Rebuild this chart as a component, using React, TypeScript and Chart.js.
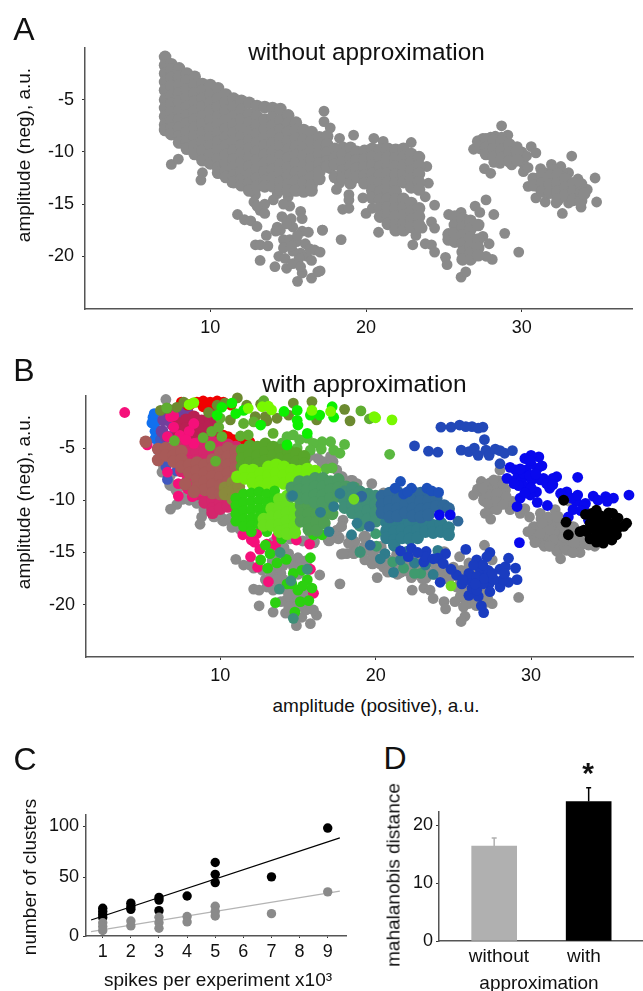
import React, { useEffect, useRef } from "react";
import { Chart, registerables } from "chart.js";
Chart.register(...registerables);

const FONT = '"Liberation Sans", Arial, sans-serif';
Chart.defaults.font.family = FONT;

type Rows = number[][];
// every row: x value followed by the y values read at that x
const aMain: Rows = [
[7.1,-0.9,-1.7,-2.5,-3.3,-4.1,-5,-5.8,-6.6,-7.4,-7.9],
[7.5,-1.6,-2.1,-2.9,-3.7,-4.6,-5.4,-6.2,-7,-7.8,-8.3],
[8,-2,-2.8,-3.6,-4.4,-5.2,-6.1,-6.9,-7.7,-8.5,-9.1],
[8.5,-2.5,-3.2,-4,-4.8,-5.7,-6.5,-7.3,-8.1,-9,-9.7],
[9,-2.8,-3.6,-4.4,-5.2,-6.1,-6.9,-7.7,-8.5,-9.4,-10.2],
[9.5,-3.5,-4.1,-4.9,-5.7,-6.6,-7.4,-8.2,-9,-9.9,-10.8],
[10,-3.6,-4.5,-5.3,-6.1,-7,-7.8,-8.6,-9.4,-10.3,-11.1],
[10.5,-3.9,-4.9,-5.7,-6.6,-7.4,-8.2,-9,-9.9,-10.7,-11.5,-12],
[11,-4.5,-5.3,-6.1,-7,-7.8,-8.6,-9.4,-10.3,-11.1,-11.9,-12.4],
[11.5,-4.9,-5.7,-6.6,-7.4,-8.2,-9,-9.9,-10.7,-11.5,-12.3,-12.9],
[12,-5.1,-6,-6.9,-7.7,-8.5,-9.4,-10.2,-11,-11.9,-12.7,-13.2],
[12.5,-5.3,-6.4,-7.2,-8.1,-8.9,-9.7,-10.6,-11.4,-12.2,-13,-13.7],
[13,-5.6,-6.6,-7.5,-8.3,-9.1,-10,-10.8,-11.6,-12.5,-13.3],
[13.5,-5.7,-6.9,-7.8,-8.6,-9.4,-10.3,-11.1,-11.9,-12.8,-13.3],
[14,-5.8,-6.7,-7.5,-8.3,-9.2,-10,-10.8,-11.7,-12.5,-13.3],
[14.5,-5.9,-7,-7.9,-8.7,-9.5,-10.4,-11.2,-12,-12.9,-13.6],
[15,-6.5,-7.3,-8.1,-9,-9.8,-10.6,-11.5,-12.3,-13.1,-13.7],
[15.5,-7.2,-7.9,-8.7,-9.5,-10.3,-11.1,-12,-12.8,-13.7],
[16,-7.9,-8.8,-9.6,-10.4,-11.3,-12.1,-12.9,-13.8],
[16.5,-8.1,-9,-9.9,-10.7,-11.5,-12.4,-13.2,-13.7],
[17,-8.6,-9.4,-10.3,-11.1,-11.9,-12.6],
[17.5,-8.5,-9.3,-10.1,-10.9,-11.4],
[18,-9.7,-10.6,-11.2,-12.4],[18.5,-10.2,-11,-11.8,-12.5],[19,-9.6,-10.6,-11.4,-12.2,-13],
[19.4,-10,-10.8,-11.6,-12.4],[19.9,-9.9,-10.7,-11.5,-12.3,-13],[20.4,-9.7,-10.5,-11.3,-12.1,-12.9,-13.7,-14.4],
[20.9,-9.8,-10.6,-11.4,-12.2,-13,-13.8,-14.6,-15.4,-16.2],[21.4,-9.7,-10.5,-11.3,-12.1,-12.9,-13.7,-14.5,-15.3,-16.1,-16.9],
[21.9,-9.8,-10.6,-11.4,-12.2,-13,-13.8,-14.6,-15.4,-16.2,-17,-17.5],[22.4,-9.7,-10.5,-11.3,-12.1,-12.9,-14.5,-15.3,-16.1,-16.9,-17.5],
[22.9,-10.2,-11,-11.8,-12.6,-13.4,-14.9,-15.7,-16.5,-17.2],[23.4,-10.5,-11.3,-12.1,-12.9,-13.6,-15.4,-16.2,-17],
[25.3,-17.9,-18.4],[25.7,-16.2,-17,-17.8,-18.6],[26.2,-16.4,-17.2,-18,-18.8,-19.6,-20.3],[26.7,-16.6,-17.4,-18.2,-19,-19.7,-20.3],[27.2,-17,-18.4,-19.2,-19.9],
[27.2,-9],[27.7,-8.8,-9.6,-10.2],[28.2,-8.9,-9.7,-10.5],[28.7,-9,-9.8,-10.6],[29.2,-9.3,-10.1,-10.9],[29.7,-10,-10.8],
[30.8,-12.6,-13.2],[31.3,-12.2,-13,-13.8],[31.8,-12.3,-13.1,-13.9],[32.3,-12.2,-13,-13.8,-14.6],[32.8,-12.6,-13.4,-14.2],[33.3,-13,-13.8,-14.6],[33.8,-13.1,-13.9,-14.7],[34,-14],
];
const aTail: Rows = [
[7.5,-11.2],[7.95,-10.7],[9.5,-12],[9.4,-12.7],[11.4,-12.95],[11.75,-16],[12.2,-16.5],[12.6,-16.6],[13,-17.15],[12.9,-18.9],[13.2,-18.9],[13.7,-19],[13.2,-20.4],[14.15,-21],[14.9,-21.15],[15.6,-22.4],[16.5,-22.1],[15.9,-21.6],[16.9,-21.5],[17.2,-17.5],[15.8,-15.7],[15.9,-16.4],[16.7,-19.4],[14.4,-20],[14.8,-20.2],
[12.9,-14.1],[12.8,-14.8],[13.2,-15.6],[13.5,-15.9],[14.05,-14.6],[14.3,-14],[15,-14.3],[15.1,-15.2],[14.6,-16.2],[14.3,-17.2],[14.5,-17.5],[15.2,-16.4],[15.3,-17.2],[15.9,-17.6],[16.3,-17.7],[13.6,-18],[14.2,-17.6],[14.7,-18.4],[15.1,-18.4],[15.55,-18.6],[16.1,-18.8],[14.7,-19.2],[15.8,-19.7],[16.2,-20],[15.3,-20.7],[15.7,-20.2],[16.5,-20.4],[15.8,-21],[15.3,-19.5],[16.4,-19.3],[14.9,-16.9],[15.6,-18],[13.5,-15],[14.7,-15],[13,-15.2],[15.2,-19],
];
const aMiddle: Rows = [
[17.3,-6.1],[17.3,-7.1],[17.7,-7.7],[18.3,-8.7],[19.2,-8.4],[20.5,-8.7],[21.1,-9],[22.9,-9.1],[18.5,-9.5],[17.7,-11.6],[18.1,-13.6],[18.3,-13],[18.9,-14.1],[18.9,-14.6],[18.5,-15.5],[18.9,-15.4],[17.2,-17.5],[18.4,-18.4],[17.05,-19.6],[17.05,-21.4],[19.8,-14.4],[20,-15.9],[20.4,-15.4],[20.8,-17.7],[23,-18.9],[24.4,-15.1],[24.2,-16.7],[24.4,-17.3],[23.8,-18.8],[24.2,-18.9],[24.4,-19.6],[25.1,-20.1],[25.2,-20.8],[26.1,-22],[26.4,-21.5],[27,-15.2],[27.7,-14.6],[27.3,-15.8],[28.2,-16],[28.9,-17.8],[29.8,-19.6],[28.1,-20.3],[27.7,-20],[27.9,-18.8],[27.5,-18.1],[26.1,-15.8],[25.3,-16],[24,-13],[23.9,-11.4],[23.8,-14.3],[23.6,-17.3],[23.2,-18],
];
const aRight: Rows = [
[26.9,-9.75],[27.5,-8.7],[28.3,-8.5],[28.7,-7.5],[29.1,-8.4],[27.6,-11.6],[28,-12.05],[28.6,-11.1],[29.35,-11.25],[30.6,-9.5],[30.9,-10.1],[30,-10],[30.1,-11.1],[30.1,-11.9],[30.4,-13.3],[30.9,-14.4],[31.2,-11.6],[31.9,-11.2],[32.5,-11.4],[33,-12],[33.2,-10.4],[34.7,-12.5],[34.2,-13.6],[34.8,-14.8],[33.8,-15.3],[32.6,-15.9],[31.5,-14.8],[32.2,-14.9],[29.6,-10.6],[30.4,-11.5],[28.2,-11],[30.7,-12.5],
[31.5,-12],[32,-11.7],[32.6,-12],[33.6,-12.6],[31,-13.3],[33,-14.9],[28,-8.6],[28.7,-8.6],[27.3,-9.7],[29.7,-9.5],[30.3,-10.4],
];

const bGrey: Rows = [
[6.5,-0.35],[6.25,-7.3],[6.8,-7.6],[7.2,-10.4],[6.8,-10.85],[8.8,-11.6],[8.7,-12.3],[8.5,-10.3],[9.1,-10.6],[10,-11.5],[10.65,-11.7],[10.75,-12.6],[7.6,-9.9],[8,-10],
[11,-15.65],[11.5,-16.2],[11.9,-16.2],[12.15,-16.5],[12.7,-16.7],[12.9,-17.6],[12.15,-18.5],[12.5,-18.6],[12.5,-20.1],[13.4,-20.7],[14.2,-20.8],[14.9,-22],[15.8,-21.8],[16.2,-21],[16,-20.5],[15.25,-21.2],[14.9,-20.2],[14.4,-20.2],[13.9,-19.7],[13.4,-18.6],[13,-18.3],[13.9,-17],[13.65,-16.4],[14.4,-15.1],[15,-15.5],[15.15,-16],[16.4,-17.15],[17.7,-18],[15.7,-16.6],[14.7,-16.35],[13.5,-14.8],[14.1,-14.5],[13.4,-14],[13.2,-16.8],[13.6,-17.6],[14.4,-19],[15.2,-20],[15.6,-19.4],[14.9,-19],
[16.3,-6],[17.1,-5.8],[15.8,-5.7],[17.5,-7.1],[18.4,-8.1],[18.8,-8.4],[17.9,-11.9],[17.5,-12.85],[18.4,-13.5],[18.3,-14.1],[18.15,-15.1],[17.8,-15.15],[14.5,-13.7],[15.3,-13.9],[15.8,-13.3],[16.8,-13.4],[17.8,-12.5],[18.8,-11.4],
[17.8,-12.5],[18.25,-14.1],[17.9,-15.1],[18.6,-15.1],[19.3,-15.7],[20.1,-17.4],[20.5,-16.4],[20.4,-15.9],[21.6,-16.9],[22.3,-17.4],[22.35,-18.6],[23.1,-18.4],[23.5,-18.6],[23.7,-19.4],[24.4,-19.7],[24.5,-20.4],[25.75,-21.1],[25.5,-21.6],[25.1,-19.7],[25.65,-20.2],[27.5,-19.9],[29.2,-19.3],[27,-14.3],[27.5,-15.7],[25.4,-15.4],[25.1,-17.2],[24.7,-17.6],[25.2,-18.3],[25.65,-18.9],[25,-16.4],[19.75,-8.4],[18.5,-8.1],[20.5,-9.3],[26,-16],[26.4,-19.5],[26.9,-20],[27.2,-19.3],[26.2,-17],[23,-17.5],[24,-16.7],
[26.3,-9.5],[26.8,-8.2],[27.6,-8.06],[28,-7.1],[27.05,-11.25],[27.4,-11.8],[27.8,-10.9],[28.65,-10.9],[27.15,-9.35],[27.8,-9.35],[28.4,-9.65],[26.9,-8.85],[28.2,-8.4],[27.7,-10.1],[27.2,-10.3],[28.2,-10.4],[29.3,-11.25],[29.6,-10.8],[29.9,-11.6],[30.6,-11.25],[31.55,-10.9],[31.1,-11.6],[32.5,-10.1],
[29.8,-13],[30.25,-14.05],[30.85,-14.4],[31.9,-15.6],[30.7,-12.2],[31.2,-12.85],[30.6,-13.2],[31.4,-13.8],[31.9,-12.2],[32.1,-13.5],[32.3,-14.8],[33.15,-15],[32.8,-14.1],[32.5,-12.85],[31.65,-11.6],[34.1,-14.4],[31.2,-14.4],[32.7,-15],
];
const bGreyBody: Rows = [
[26.6,-9],[27,-8.6,-9.4,-10],[27.4,-8.4,-9.2,-10,-10.8],[27.9,-8.2,-8.9,-9.7,-10.4],[28.3,-9,-10],[28.8,-10.2],
[30.2,-12.6,-13.4],[30.7,-11.8,-12.6,-13.4,-14],[31.2,-12,-12.8,-13.6,-14.3],[31.7,-11.6,-12.4,-13.2,-14,-14.8],[32.2,-12,-12.8,-13.6,-14.4],[32.7,-12.6,-13.4,-14.2,-14.9],[33.2,-13.4,-14.2],[33.7,-14.2],
[19.3,-13.5,-14.5],[19.8,-15,-16],[20.3,-14.5,-16],[20.8,-15.8,-16.8],[21.4,-15.2,-16.2,-17],[22,-15.8,-16.7],[22.6,-15.3,-16.3,-17],[23.2,-16.8,-17.4],[23.8,-16,-17],[24.4,-15,-16.5,-17],
[25.5,-16.8,-17.6,-18.4,-19.2],[26,-16.6,-17.4,-18.2,-19,-19.8],[26.5,-16.8,-17.6,-18.4,-19.4,-20],[27,-17.5,-18.5,-19.3],
[13.4,-15,-15.8,-17],[14,-15.4,-16.2,-17.6,-18.4],[14.5,-15.8,-18.8,-19.6],[15,-17,-19],[15.5,-15.9,-18.9,-20.4],[13.8,-18],[14.3,-19.6],
[7.8,-9.7],[8.4,-9.9],[9,-10.9],[9.6,-11.5],[10.2,-11.9],[10.8,-12.2],[11.3,-12.7],[6.4,-6.7],[6.8,-8.5],[7.2,-9],
[15.5,-6],[16.6,-6.4],[17.2,-6.3],[17.8,-7.8],[18.6,-14,-15],[19.3,-14.7],[17.6,-13.6],[17,-13.8],[16,-14],
];
const bBrightBlue: Rows = [[5.67,-2.07],[5.6,-2.6],[5.8,-3.4],[5.8,-4.1],[6,-5.2],[5.75,-1.7],[5.8,-2.64],[6,-4.9]];
const bSlateBlue: Rows = [[6.6,-8],[6.5,-6.8],[6.25,-6.15],[6.35,-4.55],[6.15,-4.2],[7.2,-7.2]];
const bPurple: Rows = [[6.35,-2.3],[7,-1.7],[7.65,-2],[7.85,-1.4],[6.25,-3.4],[7.45,-1.05],[8.1,-2.3],[6.6,-1.3],[6.9,-2.7],[6.5,-3.9],[7.1,-3.6],[7.3,-2.5]];
const bRed: Rows = [[8.5,-0.6],[8.9,-0.5],[9.35,-0.6],[9.8,-0.5],[10.2,-0.6],[8.9,-1.05],[9.4,-1.2],[10.7,-0.9],[8.1,-0.8],[7.5,-0.6],[10.2,-3.76],[10.85,-4.2],[11.4,-4.3],[11.9,-4.4],[9.6,-4.2],[9.1,-3.9],[10.5,-3.9],[10,-4.4],[7.9,-0.9]];
const bCrimson: Rows = [[7.3,-2.6,-3.4],[7.8,-2.3,-3.1,-3.9],[8.3,-2,-2.8,-3.6,-4.4],[8.8,-2.4,-3.2,-4],[9.3,-2.1,-2.9,-3.7],[9.7,-2.4,-3.2],[9.6,-1.9]];
const bHotPink: Rows = [
[3.85,-1.6],[6.8,-2],[7,-1.9],[6.6,-3.9],[6.6,-7.3],[7.3,-8.4],[7.3,-9.6],[7.85,-8.05],[8.3,-8.7],[8.2,-9.65],[8,-3.4],[8.3,-2.65],[8.3,-4.55],[7.4,-3.8],[7.8,-4.2],[5.3,-4.7],[7,-3],[7.9,-8.9],[8.7,-9.1],
[11.45,-13.3],[12,-13.8],[12.35,-13.2],[12.55,-14.7],[11.95,-15.4],[12.4,-16.4],[13.1,-17.8],[13.65,-13.5],[13.55,-14.3],[14.9,-13.8],[15.75,-14.2],[16,-18.9],[15.8,-16.6],[13,-14.2],[12.2,-14],
];
const bRose: Rows = [
[7.5,-4.8,-5.6,-6.4,-7.2],[8,-4.7,-5.5,-6.3,-7.1,-7.9,-8.7],[8.5,-4.6,-5.4,-6.2,-7,-7.8,-8.6,-9.4],[9,-4.6,-5.4,-6.2,-7,-7.8,-8.6,-9.4,-10.2],[9.5,-4.4,-5.2,-6,-6.8,-7.6,-8.4,-9.2,-10,-10.8,-11.2],[10,-4.6,-5.4,-6.2,-7,-7.8,-8.6,-9.4,-10.2,-10.8],[10.5,-4.7,-5.5,-6.3,-7.1,-7.9,-8.7,-9.5,-10.3,-10.6],[11,-9.6,-10.3,-4.9],
];
const bBrown: Rows = [
[5.2,-4.4],[6,-5.1,-6.15],[6.5,-5,-5.7],[7,-4.9,-5.7,-6.3],[7.5,-5.3,-6.1,-6.8],[8,-6.6,-7.4],[8.5,-6.4,-7.2,-8,-8.8],[9,-6.6,-7.4,-8.2,-9],[9.5,-6.1,-6.9,-7.7,-8.5,-9.3],[10,-5.4,-6.2,-7,-7.8,-8.6,-9.4],[10.5,-5,-5.8,-6.6,-7.4,-8.2,-9],[11,-5.3,-6.1,-6.9,-7.7],[7.75,-8.45],[8.3,-9.2],
];
const bOliveDark: Rows = [[6.15,-1.4],[6.6,-1.2],[7.2,-1.1],[7.65,-0.6],[9.25,-1.6],[9.8,-0.9],[10.3,-0.7],[11.1,-0.2],[10.65,-2.3],[12.25,-2],[12.9,-2],[13.65,-2.15],[14.4,-1.85],[14.7,-0.7],[15.9,-0.55],[16.2,-2.3],[18,-1.3],[18.35,-2.4],[11.7,-0.9],[12.6,-0.8],[13,-2.4]];
const bOliveMid: Rows = [[10.3,-8.8,-9.4],[10.8,-8.3,-9.1,-9.9],[11.2,-8.7,-9.5]];
const bGreenMid: Rows = [[7.05,-4.3],[6.55,-1.15],[9.7,-6.25],[9.35,-4.8],[8.9,-4],[9.45,-3.4],[10.1,-3.9],[9.9,-3],[10,-2.15],[11.5,-2.65],[11.3,-3.85],[11.8,-3.75],[12.15,-2.5],[12.8,-0.47],[13.4,-3.6],[19.05,-1.45],[19.6,-2.2]];
const bGreenDark: Rows = [[11.4,-5.2,-6,-6.8],[11.9,-4.8,-5.6,-6.4,-7.2],[12.4,-4.9,-5.7,-6.5],[12.9,-4.6,-5.4,-6.2],[13.4,-4.9,-5.7,-6.5],[13.9,-5.2,-6],[14.4,-5.3,-6.1],[14.9,-5.5,-6.3],[15.4,-5.8,-6.5]];
const bGreenLight: Rows = [[14.3,-3.9],[14.7,-3.75],[15.6,-4.05],[16.55,-4.4],[17.3,-5.2],[17.7,-5.5],[18,-4.65],[17.1,-4.4],[16,-4.55],[14.95,-5],[14.5,-5.85],[15.8,-5.2],[14,-4.5],[13.65,-4.9],[15.1,-4.2],[16.5,-5.1],[17.2,-6.9],[16.8,-7],[20.9,-5.6]];
const bPureGreen: Rows = [[10.75,-0.7],[9.8,-1.85],[11,-1.7],[11.5,-1.4],[12.6,-2.8],[14.1,-1.5],[14.95,-1.4],[15.8,-1.85],[16.4,-1.85],[17.3,-2.05],[17.2,-1.05],[15,-2.8],[14.95,-2.35],[15.6,-3.6],[14.3,-4.7],[10.1,-1.1]];
const bLimeBright: Rows = [[8.3,-0.65],[8,-0.85],[11.8,-1.2],[13.3,-1.35],[17.1,-1.5],[12.7,-1.05],[15.9,-1.4],[13.1,-1],[19.9,-2],[20,-2.1],[21.05,-2.3]];
const bLime: Rows = [[11.1,-7.75],[11.6,-7.1,-7.9],[12.1,-7.1,-7.9,-8.4],[12.6,-7.4,-8.2,-8.7],[13.1,-6.8,-7.6,-8.4],[13.6,-6.6,-7.4,-8.2],[14.1,-6.8,-7.6,-8.4],[14.6,-7.1,-7.9],[15.1,-7.2,-7.9],[15.6,-7,-7.6],[16.1,-7.2]];
const bGreenBright: Rows = [
[11,-9.8,-10.5,-11.3,-12],[11.5,-9.4,-10.2,-11,-11.8,-12.5],[12,-9.3,-10.1,-10.9,-11.7,-12.4,-13],[12.5,-9.2,-10,-10.8,-11.6,-12.3],[13,-9.4,-10.2,-11,-11.8,-13],[13.5,-9.1,-9.9],
[12.9,-14.3],[13.2,-15.1],[12.6,-15.7],[13.05,-16.5],[13.65,-16],[14.25,-15.65],[15.8,-15.5],[13.95,-13.7],[14.7,-17],[15.25,-16.7],[14.3,-18],[15,-18.6],[15.6,-17.6],[15.9,-18.4],[13.55,-19.8],[15.15,-19.7],[15.7,-19.6],[14.8,-20.7],[16,-13.3],[16.55,-13.3],[14.6,-18],[15.3,-18.2],
];
const bLimeSoft: Rows = [[12.8,-11.8,-12.4],[13.3,-10.8,-11.6,-12.4],[13.8,-9.9,-10.7,-11.5,-12.3,-13],[14.3,-9.6,-10.4,-11.2,-12,-12.8,-13.2],[14.8,-10.8,-11.6,-12.4,-13.1]];
const bSeaGreen: Rows = [[14.6,-8.8,-9.6],[15.1,-8.2,-9,-9.8],[15.6,-8.2,-9,-9.8],[16.1,-7.9,-8.7,-9.5,-10.2],[16.6,-7.9,-8.7,-9.5,-10.2],[17.1,-8.2,-9,-9.8],[17.6,-8,-8.8,-9.6],[18.1,-8.7,-9.5],[18.6,-8.8,-9.5]];
const bLeaf: Rows = [[15.2,-10.5,-11.3,-12],[15.7,-10.5,-11.3,-12.1,-12.8],[16.2,-10.5,-11.3,-12.1,-12.9],[16.7,-10.7,-11.5,-12.2],[17.2,-10.5,-11.3]];
const bLeafDots: Rows = [[19,-15],[20,-13.2],[20.6,-13.2],[20.05,-14.4],[21.1,-15.9],[21.8,-16.5],[22.9,-17],[22.5,-17]];
const bTealMid: Rows = [[18,-9.2,-10,-10.7],[18.5,-8.8,-9.6,-10.4,-11.2],[19,-9.2,-10,-10.8,-11.6,-12.4],[19.5,-9.4,-10.2,-11,-11.8],[20,-9.6,-10.4,-11.2,-12]];
const bTealDots: Rows = [[13.85,-15],[15.6,-16.6],[14.55,-17.7],[13.8,-18.5],[14.7,-21.3],[19,-14.9]];
const bTeal: Rows = [[20.7,-12.1,-12.9,-13.6],[21.2,-12.2,-13,-13.8,-14.3],[21.7,-12,-12.8,-13.6],[22.2,-12.2,-13,-13.7],[22.7,-12,-12.8,-13.6],[23.2,-12.2,-13],[23.7,-12.4,-13.1],[24.2,-12.2,-13],[24.7,-12.6,-13.3]];
const bTealSpots: Rows = [[14.65,-9.55],[16.45,-11.15],[17,-13],[18.45,-13.3],[17.7,-9.35],[17.3,-10.6],[19,-9.7],[18.8,-12.2],[20.6,-15.1],[20.3,-15.6],[21.15,-16.9],[23.7,-17.1],[24,-14.8],[21.6,-15.7],[22.5,-16],[23.2,-16.2],[22,-14.9]];
const bSteel: Rows = [[20.4,-9.6,-10.4,-11.2],[20.9,-9.3,-10.1,-10.9,-11.6],[21.4,-9.2,-10,-10.8,-11.5],[21.9,-9.6,-10.4,-11.2],[22.4,-9.2,-10,-10.8,-11.5],[22.9,-9.3,-10.1,-10.9,-11.6],[23.4,-9.2,-10,-10.8,-11.4],[23.9,-9.8,-10.6],[24.4,-10.5],[24.7,-10.8]];
const bSteelDots: Rows = [[25.3,-12],[19.65,-14.3],[19.1,-9.6],[19.6,-12.5]];
const bCobalt: Rows = [[21.6,-8.2],[21.25,-8.85],[21.8,-9.4],[22.3,-8.85],[22.05,-9.2],[23.3,-8.85],[23.6,-9.1],[24.05,-9.25]];
const bRoyal: Rows = [[24.2,-3],[24.85,-3],[25.4,-2.8],[26.2,-2.95],[26.9,-3],[26.6,-3.1],[25.8,-2.95],[27,-4.2],[22.5,-4.8],[23.4,-5.3],[24,-5.4],[25.5,-5.2],[26,-5.35],[26.35,-5],[26.6,-5.7],[27.1,-5.2],[27.3,-5.7],[27.7,-5.1],[28,-5.25],[28.3,-5.5],[28.8,-5.25],[28,-6.5]];
const bNavy: Rows = [[26.95,-20.75],[26.8,-20.1],[26.6,-19.2],[26,-19.1],[24.15,-17.85],[25.55,-18],[26.2,-17.6],[26.7,-17.15],[27.3,-18],[27.35,-18.75],[26.9,-18],[28,-17.8],[28.55,-17.85],[29.1,-17.6],[29,-16.5],[28,-16.6],[28.35,-16.35],[28.55,-15.55],[27.35,-15],[27.15,-15.4],[26.5,-15.7],[26.7,-16.5],[27.25,-16.7],[25.8,-14.7],[25.2,-17.15],[24.85,-16.6],[24.5,-15.1],[24,-15.55],[24.35,-16.05],[23.1,-15.9],[23.25,-14.9],[22.1,-15.4],[22.3,-14.6],[21.6,-14.85],[25.9,-17.6],[26.2,-18.4],[28,-18.3],[28.2,-17.6],[26.5,-18.6],[23.2,-15.4],
[26,-17],[26.5,-17.3],[27,-17.5],[27.6,-17.6],[25.6,-17.6],[26.4,-18],[27.5,-17],[26.9,-16.2],[26.3,-16.2],[28.3,-17],[23.7,-15.6],[22.7,-15]];
const bBlue: Rows = [[36.3,-9.5],[33,-7.8],[35.3,-9.8],[34.8,-9.65],[34,-9.6],[33.5,-10.3],[32.9,-10.1],[32.3,-9.2],[31.9,-9.35],[31.65,-7.75],[31.4,-7.9],[30.8,-7.9],[30.5,-5.85],[30.7,-6.7],[30,-5.7],[29.6,-6],[28.65,-6.85],[29,-7.1],[28.45,-7.9],[29.1,-7.9],[29.7,-7.1],[30.4,-6.95],[29.4,-8.05],[30.05,-8.05],[29.6,-8.7],[30.35,-9.2],[29.95,-9.5],[29.3,-9.8],[29.1,-10.6],[30.4,-10.2],[31.05,-10.5],[31.2,-8.85],[32.05,-9.65],[32.4,-11.6],[32.7,-10.9],[33.4,-10.6],[33.7,-11.9],[34.9,-10.1],[29.25,-14.05],[30.6,-8.05],[31,-8.4],[24.1,-11.4],[24.8,-11.4],[30,-6.5],[29.5,-7.4],
[29.3,-7],[29.9,-7.6],[30.3,-7.5],[29.2,-8.6],[28.9,-8.4],[30,-8.8],[29.6,-9.3],[31.4,-8.5],[32.6,-9.8],[33,-9.5],[34.3,-10],[33.2,-11],[29.9,-6.2]];
const bBlack: Rows = [[32.1,-10],[32.25,-12.1],[32.4,-13.3],[33.5,-11.35],[34.2,-10.95],[33.9,-11.25],[35.25,-11.25],[35.6,-11.7],[36.15,-12.2],[36.95,-12.95],[35.95,-12.5],[33.15,-13],[33.8,-12.2],[34.45,-12.2],[34.85,-11.9],[35.1,-12.7],[34.2,-13],[34.85,-13.3],[35.5,-13.3],[33.8,-13.7],[34.2,-14],[34.65,-14.1],[35.2,-13.8],[33.4,-12.85],[34.65,-12.7],[35.3,-12.2],[34.1,-11.9],
[34.5,-11.5],[35,-11.2],[33.6,-13],[34.4,-13.5],[35.2,-13.2],[34,-12.6],[35.6,-12.6]];
const bLimeDot: Rows = [[24.85,-18.2],[18.6,-9.9]];

const DOT = 5.4;
const BODY = 6.3;
const layersB: [Rows, string, number][] = [
  [bGreyBody,"#8b8b8b",BODY],[bGrey,"#8b8b8b",DOT],[bBrightBlue,"#1170ee",DOT],[bSlateBlue,"#4058c0",DOT],[bPurple,"#70409c",BODY],[bRed,"#f00000",DOT],[bCrimson,"#b82052",BODY],[bRose,"#d4266c",BODY],[bHotPink,"#f5107a",DOT],[bBrown,"#a85a58",BODY],[bOliveMid,"#8a8a3c",BODY],[bOliveDark,"#6c8a30",DOT],[bGreenMid,"#5fae30",DOT],[bGreenLight,"#5ab840",DOT],[bGreenDark,"#58a62a",BODY],[bPureGreen,"#0cf000",DOT],[bLimeBright,"#78f800",DOT],[bLime,"#72ea0c",BODY],[bGreenBright,"#2cd010",DOT],[bLimeSoft,"#68df1c",BODY],[bLeaf,"#4f9f52",BODY],[bLeafDots,"#3f9a6e",DOT],[bSeaGreen,"#4a9a62",BODY],[bTealMid,"#3f8f78",BODY],[bTealDots,"#3f8f78",DOT],[bTeal,"#2f7c8c",BODY],[bTealSpots,"#2f7c8c",DOT],[bSteel,"#2f689a",BODY],[bSteelDots,"#2f689a",DOT],[bCobalt,"#1c50ba",DOT],[bRoyal,"#2248b8",DOT],[bNavy,"#1a3cc0",DOT],[bBlue,"#0808ee",DOT],[bBlack,"#000000",DOT],[bLimeDot,"#70d820",DOT],
];

const spikes1 = [1,1,1,1,2,2,2,3,3,3,4,5,5,5,7,9];
const clustersWith = [20,17,14,11,25,21.6,19,30.6,28,17.7,32,64.5,53,45,50.6,98];
const spikes2 = [1,1,1,2,2,3,3,3,4,4,5,5,5,7,9];
const clustersWithout = [6,2.3,-1.6,7.7,2.9,11.3,6,0.6,12,6.8,22,16.8,12.6,14.8,36];
const fitX = [0.585,9.43];
const fitWith = [8.7,88.4];
const fitWithout = [-2.6,36.8];
const spikeTicks = [1,2,3,4,5,6,7,8,9];

const distance = [16.4,24.1];
const distanceTop = [17.8,26.5];
const barColours = ["#b0b0b0","#000000"];
const barPositions = [1,2];
const barLabelPositions = [1.05,1.95];
const barLabels = ["without","with"];

const pts = (rows: Rows) => rows.flatMap(([x, ...ys]) => ys.map((y) => ({ x, y })));

const axisColour = "#555555";
function axis(min: number, max: number, ticks: number[], size: number, horizontal: boolean, label: (v: number) => string, fontSize: number, pad: number, tickLen = 3, drawTicks = true) {
  return {
    type: "linear", min, max, offset: false,
    border: { display: true, color: axisColour, width: 1.5 },
    grid: { display: true, offset: false, drawOnChartArea: false, drawTicks, tickLength: tickLen, tickColor: "#333333", tickWidth: 1 },
    afterBuildTicks: (s: any) => { s.ticks = ticks.map((value) => ({ value })); },
    afterFit: (s: any) => {
      if (horizontal) s.height = size; else s.width = size;
      s.paddingLeft = s.paddingRight = s.paddingTop = s.paddingBottom = 0;
    },
    ticks: { autoSkip: false, maxRotation: 0, padding: pad, color: "#111111", font: { size: fontSize }, callback: (v: number) => label(v) },
  };
}

const str = (v: number) => String(v);
const basePlugins = { legend: { display: false }, tooltip: { enabled: false }, title: { display: false } };
const dots = (rows: Rows, colour: string, radius: number) => ({ data: pts(rows), backgroundColor: colour, borderWidth: 0, pointRadius: radius, clip: false } as any);

function makeA(c: HTMLCanvasElement) {
  return new Chart(c, {
    type: "scatter",
    data: { datasets: [dots(aMain, "#8a8a8a", BODY), dots([...aTail, ...aMiddle, ...aRight], "#8a8a8a", DOT)] },
    options: {
      animation: false, responsive: false, plugins: basePlugins,
      layout: { padding: { top: 48, right: 11, left: 0, bottom: 0 } },
      scales: {
        x: axis(1.96, 37.07, [10,20,30], 31, true, str, 18, 5),
        y: axis(-25.05, -0.05, [-5,-10,-15,-20], 85, false, str, 18, 8),
      },
    } as any,
  });
}
function makeB(c: HTMLCanvasElement) {
  return new Chart(c, {
    type: "scatter",
    data: { datasets: layersB.slice().reverse().map(([rows, colour, radius]) => dots(rows, colour, radius)) },
    options: {
      animation: false, responsive: false, plugins: basePlugins,
      layout: { padding: { top: 51, right: 10, left: 0, bottom: 0 } },
      scales: {
        x: axis(1.36, 36.56, [10,20,30], 30, true, str, 18, 5),
        y: axis(-25, -0.02, [-5,-10,-15,-20], 86, false, str, 18, 8),
      },
    } as any,
  });
}
function makeC(c: HTMLCanvasElement) {
  const scatter = (xs: number[], ys: number[], colour: string) => ({ data: xs.map((x, i) => ({ x, y: ys[i] })), backgroundColor: colour, borderWidth: 0, pointRadius: 4.7, clip: false });
  const fit = (ys: number[], colour: string, w: number) => ({ type: "line", data: fitX.map((x, i) => ({ x, y: ys[i] })), borderColor: colour, borderWidth: w, pointRadius: 0, fill: false, clip: false });
  return new Chart(c, {
    type: "scatter",
    data: { datasets: [fit(fitWith,"#000000",1.2), scatter(spikes2, clustersWithout, "#8a8a8a"), scatter(spikes1, clustersWith, "#000000"), fit(fitWithout,"#b4b4b4",1.2)] as any },
    options: {
      animation: false, responsive: false, plugins: basePlugins,
      layout: { padding: { top: 25, right: 14, left: 0, bottom: 0 } },
      scales: {
        x: axis(0.405, 9.65, spikeTicks, 34, true, str, 18, 3, 2),
        y: axis(-6.9, 110.7, [-6.9,50,100], 86, false, (v) => (v < 0 ? "0" : String(v)), 18, 4, 3),
      },
    } as any,
  });
}
const errorBars = {
  id: "errorBars",
  afterDatasetsDraw(chart: any) {
    const { ctx, scales: { x, y } } = chart;
    barPositions.forEach((p, i) => {
      const px = x.getPixelForValue(p), top = y.getPixelForValue(distanceTop[i]), base = y.getPixelForValue(distance[i]);
      ctx.save();
      ctx.strokeStyle = barColours[i];
      ctx.lineWidth = 1.5;
      ctx.beginPath();
      ctx.moveTo(px, base); ctx.lineTo(px, top);
      ctx.moveTo(px - 2.5, top); ctx.lineTo(px + 2.5, top);
      ctx.stroke();
      ctx.restore();
    });
  },
};
function makeD(c: HTMLCanvasElement) {
  return new Chart(c, {
    type: "bar",
    data: { datasets: [{ data: barPositions.map((x, i) => ({ x, y: distance[i] })), backgroundColor: barColours, borderWidth: 0, barThickness: 45, clip: false } as any] },
    options: {
      animation: false, responsive: false, plugins: basePlugins,
      layout: { padding: { top: 27, right: 0, left: 0, bottom: 0 } },
      scales: {
        x: axis(0.416, 2.575, barLabelPositions, 34, true, (v) => barLabels[barLabelPositions.indexOf(v)] ?? "", 19, 4, 0, false),
        y: axis(0, 22.3, [0,10,20], 69, false, str, 18, 3, 3),
      },
    } as any,
    plugins: [errorBars],
  });
}

function Panel({ make, left, top, width, height }: { make: (c: HTMLCanvasElement) => Chart; left: number; top: number; width: number; height: number }) {
  const ref = useRef<HTMLCanvasElement>(null);
  useEffect(() => {
    const chart = make(ref.current as HTMLCanvasElement);
    return () => chart.destroy();
  }, []);
  return <canvas ref={ref} width={width} height={height} style={{ position: "absolute", left, top, width, height, display: "block" }} />;
}

function Label({ x, y, size, rotate, bold, children }: { x: number; y: number; size: number; rotate?: boolean; bold?: boolean; children: React.ReactNode }) {
  return (
    <div style={{ position: "absolute", left: x, top: y, transform: `translate(-50%,-50%)${rotate ? " rotate(-90deg)" : ""}`, fontFamily: FONT, fontSize: size, lineHeight: 1, whiteSpace: "nowrap", color: "#111111", fontWeight: bold ? 700 : 400 }}>
      {children}
    </div>
  );
}

export default function App() {
  return (
    <div style={{ position: "absolute", left: 0, top: 0, width: 643, height: 991, overflow: "hidden", background: "#ffffff" }}>
      <Panel make={makeA} left={0} top={0} width={643} height={340} />
      <Panel make={makeB} left={0} top={345} width={643} height={342} />
      <Panel make={makeC} left={0} top={790} width={360} height={180} />
      <Panel make={makeD} left={370} top={785} width={273} height={190} />
      <Label x={24} y={29} size={32}>A</Label>
      <Label x={24} y={370} size={32}>B</Label>
      <Label x={25} y={759} size={32}>C</Label>
      <Label x={395} y={758} size={32}>D</Label>
      <Label x={366.5} y={52} size={24.3}>without approximation</Label>
      <Label x={364.5} y={384} size={24.5}>with approximation</Label>
      <Label x={23} y={155} size={19} rotate>amplitude (neg), a.u.</Label>
      <Label x={23} y={502} size={19} rotate>amplitude (neg), a.u.</Label>
      <Label x={376} y={705} size={19}>amplitude (positive), a.u.</Label>
      <Label x={29} y={877} size={19} rotate>number of clusters</Label>
      <Label x={218} y={979} size={19}>spikes per experiment x10³</Label>
      <Label x={393} y={875} size={19} rotate>mahalanobis distance</Label>
      <Label x={539} y={982} size={19}>approximation</Label>
      <Label x={588} y={773} size={30} bold>*</Label>
    </div>
  );
}
